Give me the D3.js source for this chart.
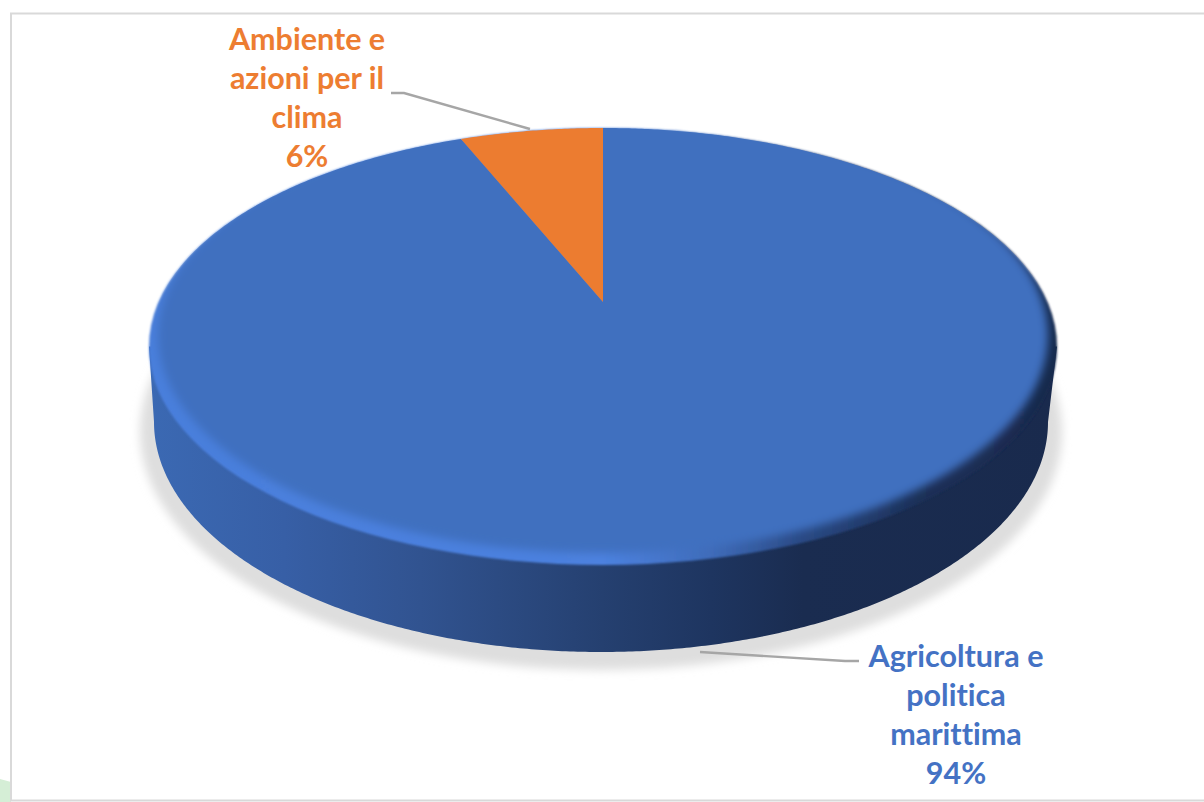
<!DOCTYPE html>
<html>
<head>
<meta charset="utf-8">
<script src="https://cdn.jsdelivr.net/npm/d3@7"></script>
<style>
  html, body { margin: 0; background: #fff; }
  svg { display: block; }
  text { font-family: Lato, "Open Sans", sans-serif; font-weight: 700; font-size: 30.5px; text-anchor: middle; font-variant-ligatures: none; }
</style>
</head>
<body>
<div class="chart"></div>
<script>
// shares, labels round them to 94% / 6%
const categories = ['Agricoltura e politica marittima', 'Ambiente e azioni per il clima'];
const shares = [93.8, 6.2];
const labelLines = [['Agricoltura e', 'politica', 'marittima'], ['Ambiente e', 'azioni per il', 'clima']];
const sliceColors = ['#4070bf', '#ec7c30'];
const textColors = ['#4472c4', '#ed7d31'];

const width = 1204, height = 802;

// top of the disc, seen in perspective: the hub sits above the middle of the ellipse
const topDisc = { cx: 603, top: 128, hub: 302, bottom: 565, halfWidth: 454 };
const lowDisc = { cx: 601, top: 192, bottom: 652, halfWidth: 447 };

const total = d3.sum(shares);
const pct = d3.format('.0%');

const svg = d3.select('.chart').append('svg')
  .attr('width', width)
  .attr('height', height);

const defs = svg.append('defs');

function blur(id, dev) {
  defs.append('filter').attr('id', id)
    .attr('x', '-10%').attr('y', '-10%').attr('width', '120%').attr('height', '120%')
    .append('feGaussianBlur').attr('stdDeviation', dev);
}
blur('shadowBlur', 5);
blur('rimBlur', 4);
blur('edgeBlur', 1.2);

function gradient(id, x1, x2, stops) {
  const g = defs.append('linearGradient').attr('id', id)
    .attr('gradientUnits', 'userSpaceOnUse')
    .attr('x1', x1).attr('x2', x2).attr('y1', 0).attr('y2', 0);
  stops.forEach(s => g.append('stop').attr('offset', s[0]).attr('stop-color', s[1]));
}
gradient('wallFill', 148, 1057, [[0, '#3b69b3'], [0.15, '#375fa6'], [0.3, '#315390'], [0.5, '#254070'], [0.62, '#1e3560'], [0.72, '#1a2c50'], [1, '#192a4d']]);
gradient('rimFill', 148, 1057, [[0, '#4a7fdc'], [0.5, '#4d82e0'], [0.62, '#3f6cba'], [0.72, '#2a4a85'], [0.85, '#1c3058'], [1, '#192a4d']]);

// plain ellipse outline
function ellipsePoint(d, a) {
  const cy = (d.top + d.bottom) / 2, ry = (d.bottom - d.top) / 2;
  return [d.cx + d.halfWidth * Math.sin(a), cy - ry * Math.cos(a)];
}

// maps a point of the flat unit disc (u right, v away from us) to the screen
function projector(d) {
  const k = (2 * d.hub - d.top - d.bottom) / (d.top - d.bottom);
  const b = d.top * (1 + k) - d.hub;
  const c = d.halfWidth * Math.sqrt(1 - k * k);
  return (u, v) => {
    const w = 1 + k * v;
    return [d.cx + c * u / w, (d.hub + b * v) / w];
  };
}
const project = projector(topDisc);

function arcPoints(start, end, fn) {
  const n = Math.max(2, Math.ceil((end - start) / (Math.PI / 360)));
  return d3.range(n + 1).map(i => fn(start + (end - start) * i / n));
}

const line = d3.line();
const pie = d3.pie().sort(null);
const slices = pie(shares);

// soft shadow under the disc
svg.append('ellipse')
  .attr('cx', lowDisc.cx)
  .attr('cy', (lowDisc.top + lowDisc.bottom) / 2 + 10)
  .attr('rx', lowDisc.halfWidth + 14)
  .attr('ry', (lowDisc.bottom - lowDisc.top) / 2 + 8)
  .attr('fill', '#dedede')
  .attr('filter', 'url(#shadowBlur)');

// side wall
const wallPoints = [ellipsePoint(topDisc, Math.PI / 2)]
  .concat(arcPoints(Math.PI / 2, 3 * Math.PI / 2, a => ellipsePoint(lowDisc, a)))
  .concat([ellipsePoint(topDisc, 3 * Math.PI / 2)]);
svg.append('path')
  .attr('d', line(wallPoints) + 'Z')
  .attr('fill', 'url(#wallFill)');

// bevel: whole top in rim colours, the slice is masked so the rim shows round it
const topCy = (topDisc.top + topDisc.bottom) / 2;
const topRy = (topDisc.bottom - topDisc.top) / 2;
svg.append('ellipse')
  .attr('cx', topDisc.cx).attr('cy', topCy)
  .attr('rx', topDisc.halfWidth).attr('ry', topRy)
  .attr('fill', 'url(#rimFill)')
  .attr('filter', 'url(#edgeBlur)');

defs.append('mask').attr('id', 'faceMask')
  .attr('maskUnits', 'userSpaceOnUse')
  .attr('x', 0).attr('y', 0).attr('width', width).attr('height', height)
  .append('ellipse')
  .attr('cx', topDisc.cx).attr('cy', topCy - 11)
  .attr('rx', topDisc.halfWidth - 9).attr('ry', topRy - 1)
  .attr('fill', '#fff')
  .attr('filter', 'url(#rimBlur)');

svg.selectAll('.slice')
  .data(slices)
  .enter()
  .append('path')
  .attr('class', 'slice')
  .attr('d', d => {
    const pts = arcPoints(d.startAngle, d.endAngle, a => project(Math.sin(a), Math.cos(a)));
    return line([project(0, 0)].concat(pts)) + 'Z';
  })
  .attr('fill', (d, i) => sliceColors[i])
  .attr('mask', (d, i) => i === 0 ? 'url(#faceMask)' : null);

// leader lines
const leaders = [
  [[700, 652], [845, 661], [859, 661]],
  [[391, 93], [404, 93], [530, 129]]
];
svg.selectAll('.leader')
  .data(leaders)
  .enter()
  .append('path')
  .attr('class', 'leader')
  .attr('d', d => line(d))
  .attr('fill', 'none')
  .attr('stroke', '#a6a6a6')
  .attr('stroke-width', 2.4);

// labels
const labelPos = [{ x: 956, y: 667 }, { x: 307, y: 50 }];
const lineStep = 39;
const labels = svg.selectAll('.label')
  .data(slices)
  .enter()
  .append('text')
  .attr('class', 'label')
  .attr('fill', (d, i) => textColors[i]);
labels.each(function (d, i) {
  const rows = labelLines[i].concat(pct(shares[i] / total));
  d3.select(this).selectAll('tspan')
    .data(rows)
    .enter()
    .append('tspan')
    .attr('x', labelPos[i].x)
    .attr('y', (r, j) => labelPos[i].y + j * lineStep)
    .text(r => r);
});

// frame of the chart area, and the bit of green page behind it
svg.append('path')
  .attr('d', 'M0,779L11,782L11,802L0,802Z')
  .attr('fill', '#d5eed6');
svg.append('path')
  .attr('d', 'M1204,13.5L11,13.5L11,800.5L1204,800.5')
  .attr('fill', 'none')
  .attr('stroke', '#d9d9d9')
  .attr('stroke-width', 2);
</script>
</body>
</html>
